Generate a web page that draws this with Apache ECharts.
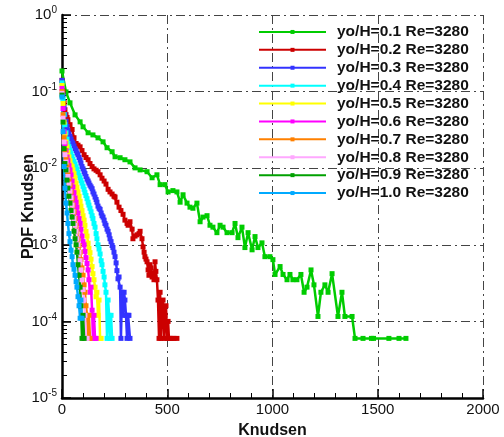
<!DOCTYPE html>
<html>
<head>
<meta charset="utf-8">
<script src="https://cdn.jsdelivr.net/npm/echarts@6/dist/echarts.min.js"></script>
<style>
  html, body { margin: 0; padding: 0; background: #fff; }
  #chart-panel { width: 504px; height: 437px; }
</style>
</head>
<body>
<div id="chart-panel"></div>
<script>
// PDF of Knudsen number at several wall distances
const names = [
  'yo/H=0.1 Re=3280', 'yo/H=0.2 Re=3280', 'yo/H=0.3 Re=3280', 'yo/H=0.4 Re=3280',
  'yo/H=0.5 Re=3280', 'yo/H=0.6 Re=3280', 'yo/H=0.7 Re=3280', 'yo/H=0.8 Re=3280',
  'yo/H=0.9 Re=3280', 'yo/H=1.0 Re=3280'
];
const colors = ['#00cc00', '#cc0000', '#3333ff', '#00ffff', '#ffff00',
  '#ff00ff', '#ff8000', '#ffa8ff', '#00a000', '#00aaff'];

const xTicks = [0, 500, 1000, 1500, 2000];

const h01 = [[0,0.186],[19,0.099],[38,0.0713],[62,0.0497],[86,0.0403],[100,0.0347],[124,0.029],[147,0.0272],[171,0.0249],[195,0.0221],[214,0.0185],[238,0.0164],[252,0.0141],[276,0.0137],[299,0.0129],[323,0.0121],[347,0.0101],[371,0.0095],[404,0.009],[428,0.0075],[451,0.0082],[466,0.0061],[489,0.0061],[504,0.0049],[527,0.0051],[546,0.0049],[561,0.0036],[575,0.0045],[594,0.0035],[608,0.0031],[622,0.003],[641,0.0035],[656,0.002],[670,0.0023],[689,0.0024],[703,0.0018],[717,0.0017],[736,0.00144],[751,0.0018],[765,0.0017],[784,0.00144],[808,0.00144],[822,0.0019],[836,0.00124],[855,0.0017],[869,0.00092],[884,0.00144],[903,0.00086],[917,0.00128],[931,0.00092],[950,0.00106],[964,0.0007],[988,0.0007],[1002,0.00064],[1012,0.00041],[1036,0.00052],[1050,0.00041],[1069,0.00035],[1083,0.00041],[1097,0.00035],[1116,0.00035],[1135,0.00041],[1150,0.00024],[1164,0.00028],[1183,0.00047],[1197,0.0003],[1216,0.000116],[1230,0.00024],[1249,0.0003],[1264,0.00024],[1283,0.00042],[1311,0.000116],[1330,0.00024],[1344,0.000116],[1378,0.000116],[1392,0.00006],[1430,0.00006],[1470,0.00006],[1480,0.00006],[1553,0.00006],[1601,0.00006],[1634,0.00006]];

const h02 = [[0,0.14],[5,0.1],[10,0.072],[14,0.058],[19,0.05],[24,0.046],[28,0.043],[38,0.037],[48,0.032],[57,0.025],[67,0.021],[76,0.02],[86,0.019],[95,0.017],[105,0.015],[114,0.0138],[124,0.0129],[133,0.0115],[143,0.0105],[152,0.0098],[162,0.0094],[171,0.009],[181,0.0082],[190,0.0074],[200,0.0068],[209,0.0062],[219,0.0053],[228,0.0049],[238,0.0046],[247,0.0043],[252,0.0042],[261,0.0036],[271,0.0031],[280,0.0028],[290,0.0025],[299,0.0021],[309,0.0019],[314,0.0018],[323,0.002],[333,0.0016],[337,0.0012],[347,0.0013],[356,0.00135],[366,0.0014],[371,0.0015],[380,0.0012],[385,0.00094],[390,0.0008],[394,0.0007],[399,0.00065],[404,0.0006],[409,0.00047],[413,0.0004],[418,0.00055],[423,0.0005],[428,0.00038],[432,0.00043],[437,0.00035],[442,0.0006],[446,0.00045],[451,0.00035],[456,0.00019],[461,0.00006],[466,0.00024],[470,0.00006],[475,0.00014],[480,0.00019],[485,0.00006],[489,0.00012],[494,0.00016],[499,0.00006],[504,0.0001],[508,0.00006],[513,0.00006],[523,0.00006],[532,0.00006],[546,0.00006]];

const h03 = [[0,0.14],[5,0.09],[10,0.062],[14,0.05],[19,0.041],[24,0.035],[28,0.031],[33,0.028],[38,0.026],[43,0.024],[48,0.022],[52,0.021],[57,0.0195],[62,0.018],[67,0.017],[71,0.0158],[76,0.015],[81,0.0138],[86,0.0128],[90,0.0117],[95,0.0105],[100,0.0098],[105,0.009],[109,0.0085],[114,0.0078],[119,0.0072],[124,0.0068],[128,0.0064],[133,0.006],[138,0.0057],[143,0.0054],[147,0.0049],[152,0.0046],[157,0.0042],[162,0.0039],[166,0.0036],[171,0.0032],[176,0.003],[181,0.0029],[186,0.0026],[190,0.0024],[195,0.0023],[200,0.0021],[204,0.0019],[209,0.0018],[214,0.0016],[219,0.0015],[224,0.00135],[228,0.0012],[233,0.0011],[238,0.00098],[242,0.00092],[247,0.0008],[252,0.0007],[257,0.00058],[261,0.00046],[266,0.00036],[271,0.00038],[276,0.00028],[280,0.00006],[285,0.00024],[290,0.00012],[295,0.00024],[299,0.00019],[304,0.00012],[309,0.00006],[314,0.00012],[318,0.00012],[323,0.00006]];

const h04 = [[0,0.13],[5,0.08],[10,0.05],[14,0.037],[19,0.029],[24,0.024],[28,0.021],[33,0.019],[38,0.017],[43,0.0155],[48,0.0142],[52,0.013],[57,0.0122],[62,0.0113],[67,0.0104],[71,0.0097],[76,0.0088],[81,0.008],[86,0.0075],[90,0.0069],[95,0.0064],[100,0.0058],[105,0.0053],[109,0.0048],[114,0.0044],[119,0.004],[124,0.0036],[128,0.0033],[133,0.003],[138,0.0027],[143,0.0024],[147,0.0022],[152,0.0019],[157,0.0017],[162,0.0014],[166,0.0012],[171,0.001],[176,0.00088],[181,0.00076],[186,0.00062],[190,0.00055],[195,0.00045],[200,0.00038],[204,0.0003],[209,0.00024],[214,0.00006],[219,0.00019],[224,0.00012],[228,0.00006],[233,0.00012],[238,0.00006]];

const h05 = [[0,0.12],[5,0.07],[10,0.04],[14,0.028],[19,0.022],[24,0.019],[28,0.016],[33,0.014],[38,0.0125],[43,0.011],[48,0.0105],[52,0.0095],[57,0.0085],[62,0.0075],[67,0.0064],[71,0.0056],[76,0.0049],[81,0.0043],[86,0.0037],[90,0.0032],[95,0.0028],[100,0.0024],[105,0.0021],[109,0.0018],[114,0.0015],[119,0.0013],[124,0.00105],[128,0.0009],[133,0.00079],[138,0.00065],[143,0.00052],[147,0.00042],[152,0.00035],[157,0.00028],[162,0.00021],[166,0.00024],[171,0.00012],[176,0.00019],[181,0.00006],[186,0.00006]];

const h06 = [[0,0.11],[5,0.06],[10,0.03],[14,0.021],[19,0.017],[24,0.014],[28,0.0125],[33,0.0108],[38,0.0095],[43,0.0082],[48,0.0068],[52,0.0057],[57,0.0048],[62,0.0041],[67,0.0036],[71,0.0031],[76,0.0026],[81,0.0022],[86,0.0019],[90,0.0016],[95,0.0013],[100,0.0011],[105,0.001],[109,0.00082],[114,0.00068],[119,0.00057],[124,0.00047],[128,0.00035],[133,0.00024],[138,0.00028],[143,0.00014],[147,0.00006],[152,0.00012],[157,0.00006],[162,0.00006]];

const h07 = [[0,0.1],[5,0.05],[10,0.025],[14,0.017],[19,0.0135],[24,0.011],[28,0.009],[33,0.0072],[38,0.006],[43,0.0049],[48,0.004],[52,0.0033],[57,0.0027],[62,0.0022],[67,0.0018],[71,0.0015],[76,0.0012],[81,0.00098],[86,0.0008],[90,0.00064],[95,0.0005],[100,0.0004],[105,0.0003],[109,0.00024],[114,0.00016],[119,0.00012],[124,0.00006],[128,0.00012],[133,0.00006]];

const h08 = [[0,0.095],[5,0.045],[10,0.022],[14,0.015],[19,0.012],[24,0.0095],[28,0.0078],[33,0.0062],[38,0.005],[43,0.0041],[48,0.0033],[52,0.0027],[57,0.0022],[62,0.0018],[67,0.0015],[71,0.0012],[76,0.001],[81,0.0008],[86,0.00062],[90,0.00047],[95,0.00035],[100,0.00026],[105,0.00019],[109,0.00012],[114,0.00006],[119,0.00006]];

const h09 = [[0,0.09],[5,0.04],[10,0.018],[14,0.0115],[19,0.0095],[24,0.007],[28,0.0055],[33,0.0043],[38,0.0035],[43,0.0028],[48,0.0023],[52,0.0019],[57,0.0015],[62,0.0012],[67,0.001],[71,0.0008],[76,0.00055],[81,0.0004],[86,0.00028],[90,0.00016],[95,0.00006],[100,0.00012],[105,0.00006]];

const h10 = [[0,0.085],[5,0.03],[10,0.0105],[14,0.0055],[19,0.0035],[24,0.0026],[28,0.0019],[33,0.0014],[38,0.0011],[43,0.00085],[48,0.0007],[52,0.00055],[57,0.00048],[62,0.0004],[67,0.00033],[71,0.00028],[76,0.00021],[81,0.00016],[86,0.00011],[90,0.00019],[95,0.00011]];

const curves = [h01, h02, h03, h04, h05, h06, h07, h08, h09, h10];

var myChart = echarts.init(document.getElementById('chart-panel'));

const gridLine = { show: true, lineStyle: { color: '#444', width: 1, type: [9, 4, 2, 4] } };

myChart.setOption({
  animation: false,
  textStyle: { fontFamily: 'Liberation Sans, Arial, sans-serif' },
  grid: { left: 62, right: 21, top: 15, bottom: 39, outerBoundsMode: 'none', containLabel: false },
  legend: {
    orient: 'vertical',
    left: 253,
    top: 18,
    itemWidth: 67,
    itemHeight: 5,
    itemGap: 0,
    data: names,
    textStyle: { fontSize: 15.5, fontWeight: 'bold', color: '#111', lineHeight: 17.9,
      padding: [0, 0, 0, 6] }
  },
  xAxis: {
    type: 'value',
    min: 0,
    max: 2000,
    interval: 500,
    name: 'Knudsen',
    nameLocation: 'middle',
    nameGap: 25,
    nameMoveOverlap: false,
    nameTextStyle: { fontSize: 16, fontWeight: 'bold', color: '#111' },
    axisLine: { onZero: false, lineStyle: { color: '#000', width: 2.5 } },
    axisTick: { inside: true, length: 9, lineStyle: { color: '#000', width: 1.5 } },
    minorTick: { show: true, splitNumber: 5, length: 5, lineStyle: { color: '#000' } },
    axisLabel: { fontSize: 15, color: '#111', margin: 4,
      formatter: function (v) { return String(v); } },
    splitLine: gridLine
  },
  yAxis: {
    type: 'log',
    logBase: 10,
    min: 1e-5,
    max: 1,
    name: 'PDF Knudsen',
    nameLocation: 'middle',
    nameGap: 25,
    nameMoveOverlap: false,
    nameTextStyle: { fontSize: 16, fontWeight: 'bold', color: '#111' },
    axisLine: { show: true, onZero: false, lineStyle: { color: '#000', width: 2.5 } },
    axisTick: { show: true, inside: true, length: 9, lineStyle: { color: '#000', width: 1.5 } },
    minorTick: { show: true, splitNumber: 9, length: 5, lineStyle: { color: '#000' } },
    axisLabel: {
      color: '#111',
      margin: 5,
      formatter: function (v) {
        return '{b|10}{s|' + Math.round(Math.log10(v)) + '}';
      },
      rich: {
        b: { fontSize: 15, color: '#111' },
        s: { fontSize: 10, color: '#111', padding: [0, 0, 9, 0] }
      }
    },
    splitLine: gridLine
  },
  series: curves.map(function (d, i) {
    return {
      name: names[i],
      type: 'line',
      data: d,
      symbol: 'rect',
      symbolSize: 5,
      showAllSymbol: true,
      lineStyle: { color: colors[i], width: 2.5 },
      itemStyle: { color: colors[i] }
    };
  })
});
</script>
</body>
</html>
